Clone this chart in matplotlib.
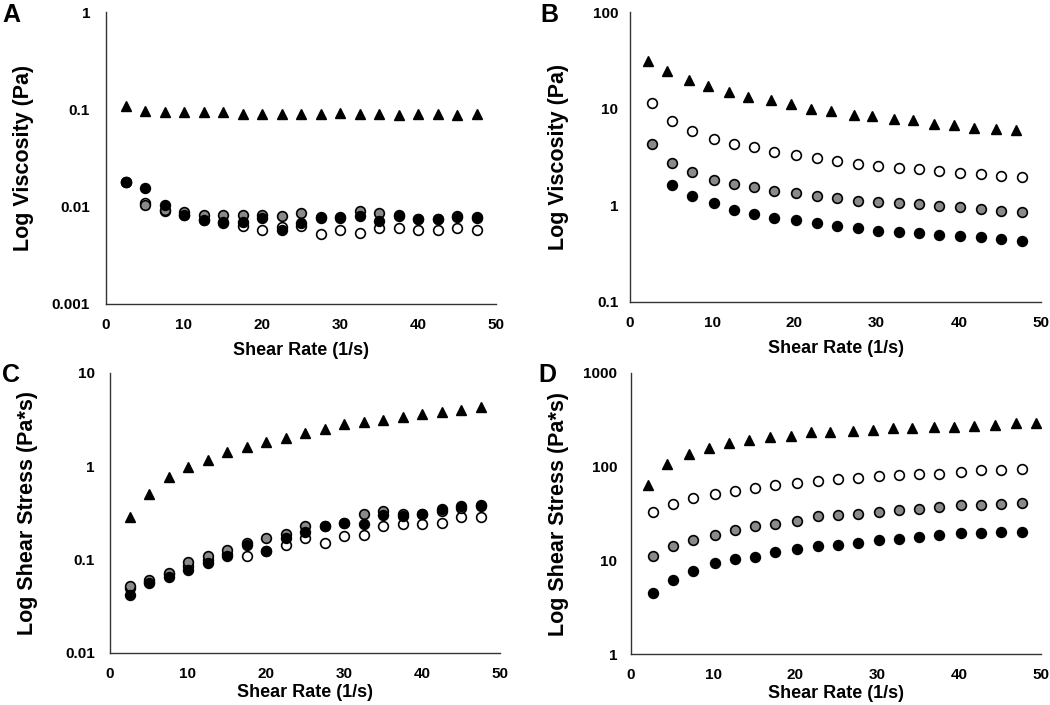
import matplotlib
matplotlib.use("Agg")
import matplotlib.pyplot as plt

plt.rcParams["font.family"] = ["Liberation Sans", "DejaVu Sans"]
plt.rcParams["font.weight"] = "bold"

# shear rates (1/s)
x_ac = [2.5, 5, 7.5, 10, 12.5, 15, 17.5, 20, 22.5, 25, 27.5, 30, 32.5, 35, 37.5, 40, 42.5, 45, 47.5]
x_circ_bd = [2.7, 5.1, 7.5, 10.2, 12.7, 15.1, 17.5, 20.2, 22.8, 25.2, 27.7, 30.2, 32.7, 35.1, 37.6, 40.2, 42.7, 45.1, 47.7]
x_tri_b = [2.2, 4.5, 7.2, 9.5, 12.0, 14.4, 17.1, 19.6, 22.0, 24.4, 27.2, 29.5, 32.1, 34.4, 37.0, 39.4, 41.9, 44.5, 47.0]
x_tri_d = [2.1, 4.4, 7.1, 9.5, 11.9, 14.4, 17.0, 19.5, 22.0, 24.3, 27.1, 29.5, 32.0, 34.3, 36.9, 39.4, 41.8, 44.4, 47.0, 49.4]

# A - viscosity
a_tri = [0.108, 0.097, 0.095, 0.095, 0.093, 0.093, 0.089, 0.089, 0.089, 0.089, 0.089, 0.091, 0.089, 0.089, 0.087, 0.089, 0.089, 0.087, 0.089]
a_white = [0.018, 0.011, 0.0091, 0.0082, 0.0073, 0.0068, 0.0064, 0.0058, 0.0062, 0.0063, 0.0052, 0.0058, 0.0054, 0.0060, 0.0060, 0.0057, 0.0057, 0.0060, 0.0058]
a_gray = [0.018, 0.0105, 0.0093, 0.0089, 0.0082, 0.0082, 0.0082, 0.0082, 0.0080, 0.0087, 0.0079, 0.0078, 0.0090, 0.0087, 0.0080, 0.0074, 0.0074, 0.0079, 0.0077]
a_black = [0.018, 0.0155, 0.0105, 0.0082, 0.0073, 0.0070, 0.0070, 0.0077, 0.0058, 0.0068, 0.0077, 0.0077, 0.0080, 0.0072, 0.0082, 0.0075, 0.0075, 0.0080, 0.0078]

# B - viscosity
b_tri = [31.2, 24.6, 19.7, 17.0, 14.9, 13.2, 12.2, 11.3, 10.0, 9.4, 8.65, 8.3, 7.9, 7.7, 7.0, 6.7, 6.35, 6.2, 5.95]
b_white = [11.5, 7.5, 5.9, 4.9, 4.3, 4.0, 3.6, 3.3, 3.06, 2.87, 2.68, 2.58, 2.45, 2.36, 2.27, 2.18, 2.10, 2.03, 1.98]
b_gray = [4.3, 2.72, 2.2, 1.83, 1.65, 1.54, 1.42, 1.33, 1.25, 1.20, 1.12, 1.08, 1.05, 1.03, 0.99, 0.97, 0.91, 0.88, 0.85]
b_black = [1.63, 1.25, 1.05, 0.90, 0.81, 0.735, 0.706, 0.653, 0.612, 0.589, 0.548, 0.535, 0.523, 0.494, 0.483, 0.475, 0.45, 0.43]

# C - shear stress
c_tri = [0.29, 0.508, 0.76, 0.98, 1.17, 1.42, 1.63, 1.84, 2.03, 2.26, 2.5, 2.85, 2.97, 3.14, 3.36, 3.64, 3.86, 4.02, 4.36]
c_white = [0.05, 0.058, 0.07, 0.085, 0.10, 0.115, 0.11, 0.125, 0.145, 0.17, 0.15, 0.18, 0.185, 0.227, 0.239, 0.239, 0.247, 0.286, 0.29]
c_gray = [0.052, 0.061, 0.072, 0.094, 0.11, 0.126, 0.15, 0.17, 0.19, 0.227, 0.227, 0.25, 0.308, 0.329, 0.31, 0.31, 0.33, 0.36, 0.38]
c_black = [0.042, 0.056, 0.066, 0.078, 0.091, 0.11, 0.145, 0.123, 0.17, 0.196, 0.227, 0.25, 0.243, 0.303, 0.296, 0.31, 0.348, 0.378, 0.387]

# D - shear stress
d_tri = [63, 106, 138, 159, 180, 195, 206, 215, 233, 233, 243, 249, 260, 260, 267, 267, 275, 277, 289, 289]
d_white = [32.9, 39.7, 46.8, 50.7, 55, 59.8, 63.2, 67.6, 70.3, 74.5, 76.4, 79.4, 81.5, 84.3, 84.3, 87.7, 92, 92, 95]
d_gray = [11.2, 14.1, 16.4, 18.7, 21.2, 23.4, 24.7, 26.4, 29.4, 30.3, 31.1, 32.9, 34.3, 35.7, 37.2, 38.7, 38.7, 39.7, 40.7]
d_black = [4.49, 6.18, 7.64, 9.29, 10.3, 10.9, 12.2, 13.2, 14.1, 14.7, 15.5, 16.4, 16.9, 17.8, 18.6, 19.4, 19.4, 19.9, 20.3]

x_ticks = [0, 10, 20, 30, 40, 50]

W, H = 1050, 705
fig = plt.figure(figsize=(W / 100, H / 100), dpi=100)


def make_axes(left, right, top, bottom):
    return fig.add_axes([left / W, 1 - bottom / H, (right - left) / W, (bottom - top) / H])


def style(ax, yticks, ylabel, ylab_off, ypad, xlab_off, letter, letter_xy):
    w_px = ax.get_position().width * W
    h_px = ax.get_position().height * H
    ax.set_yscale("log")
    ax.set_ylim(yticks[0], yticks[-1])
    ax.set_xlim(0, 50)
    ax.set_yticks(yticks, [("%g" % t) for t in yticks])
    ax.minorticks_off()
    ax.set_xticks(x_ticks, [str(t) for t in x_ticks])
    ax.tick_params(axis="both", length=0, labelsize=11)
    ax.tick_params(axis="x", pad=10)
    ax.tick_params(axis="y", pad=ypad)
    for s in ["top", "right"]:
        ax.spines[s].set_visible(False)
    for s in ["left", "bottom"]:
        ax.spines[s].set_linewidth(1.0)
        ax.spines[s].set_color("#333333")
    ax.set_ylabel(ylabel, fontsize=15.5, fontweight="bold")
    ax.yaxis.set_label_coords(-ylab_off / w_px, 0.5)
    ax.set_xlabel("Shear Rate (1/s)", fontsize=13, fontweight="bold")
    ax.xaxis.set_label_coords(0.5, -xlab_off / h_px)
    fig.text(letter_xy[0] / W, 1 - letter_xy[1] / H, letter, fontsize=18,
             fontweight="bold", ha="left", va="center")


def draw(ax, xc, white, gray, black, xt, tri, xb=None):
    kw = dict(linestyle="none", marker="o", ms=7, mew=1.2, mec="black")
    ax.plot(xc, white, mfc="white", **kw)
    ax.plot(xc, gray, mfc="#8a8a8a", **kw)
    ax.plot(xb if xb is not None else xc, black, mfc="black", **kw)
    ax.plot(xt, tri, linestyle="none", marker="^", ms=7.5, color="black")


ax_a = make_axes(106, 496, 12, 304)
draw(ax_a, x_ac, a_white, a_gray, a_black, x_ac, a_tri)
style(ax_a, [0.001, 0.01, 0.1, 1], "Log Viscosity (Pa)", 72, 11.5, 38, "A", (2, 15))

ax_b = make_axes(630, 1041, 12, 302)
draw(ax_b, x_circ_bd, b_white, b_gray, b_black, x_tri_b, b_tri, xb=x_circ_bd[1:])
style(ax_b, [0.1, 1, 10, 100], "Log Viscosity (Pa)", 61, 8.5, 38, "B", (540, 15))

ax_c = make_axes(110, 500, 373, 653)
draw(ax_c, x_ac, c_white, c_gray, c_black, x_ac, c_tri)
style(ax_c, [0.01, 0.1, 1, 10], "Log Shear Stress (Pa*s)", 72, 11, 31, "C", (2, 375))

ax_d = make_axes(631, 1041, 373, 654)
draw(ax_d, x_circ_bd, d_white, d_gray, d_black, x_tri_d, d_tri)
style(ax_d, [1, 10, 100, 1000], "Log Shear Stress (Pa*s)", 62, 10, 31, "D", (538, 375))

fig.savefig("out.png", dpi=100)
